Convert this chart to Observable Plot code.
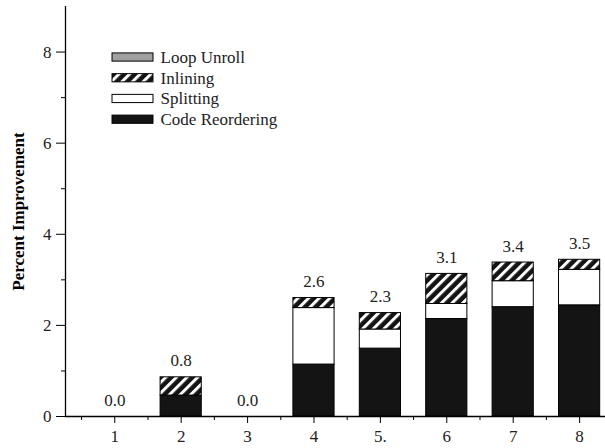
<!DOCTYPE html>
<html>
<head>
<meta charset="utf-8">
<script src="https://cdn.jsdelivr.net/npm/d3@7"></script>
<script src="https://cdn.jsdelivr.net/npm/@observablehq/plot@0.6"></script>
<style>
  html, body { margin: 0; padding: 0; background: #fff; }
  #chart svg { font-family: "Liberation Serif", "Times New Roman", serif !important; font-size: 17px; }
  #chart svg text { font-family: "Liberation Serif", "Times New Roman", serif !important; }
</style>
</head>
<body>
<div id="chart"></div>
<script>
// ---- data ----
const categories = [1, 2, 3, 4, 5, 6, 7, 8];
const xTickLabels = ["1", "2", "3", "4", "5.", "6", "7", "8"];
const codeReordering = [0, 0.46, 0, 1.14, 1.49, 2.14, 2.40, 2.44];
const splitting      = [0, 0,    0, 1.24, 0.42, 0.33, 0.57, 0.78];
const inlining       = [0, 0.40, 0, 0.22, 0.36, 0.66, 0.41, 0.22];
const loopUnroll     = [0, 0,    0, 0,    0,    0,    0,    0];
const totalLabels = ["0.0", "0.8", "0.0", "2.6", "2.3", "3.1", "3.4", "3.5"];
const legendNames = ["Loop Unroll", "Inlining", "Splitting", "Code Reordering"];
const yMajorTicks = [0, 2, 4, 6, 8];
const yMinorTicks = [1, 3, 5, 7];

// ---- styling ----
const serif = "Liberation Serif";
const fs = 17;
const fills = {
  "Code Reordering": "#141414",
  "Splitting": "#ffffff",
  "Inlining": "url(#hatch)",
  "Loop Unroll": "#a0a0a0"
};
const seriesValues = {
  "Code Reordering": codeReordering,
  "Splitting": splitting,
  "Inlining": inlining,
  "Loop Unroll": loopUnroll
};
const stackOrder = ["Code Reordering", "Splitting", "Inlining", "Loop Unroll"];
const halfWidth = 0.31;
const xDomain = [0.258, 8.39];
const yDomain = [0, 9];

const rows = categories.flatMap((c, i) => {
  let base = 0;
  return stackOrder.map(s => {
    const v = seriesValues[s][i];
    const r = {cat: c, series: s, y1: base, y2: base + v};
    base += v;
    return r;
  });
}).filter(r => r.y2 > r.y1);

const totals = categories.map((c, i) => stackOrder.reduce((a, s) => a + seriesValues[s][i], 0));

// legend placement (data space)
const legX1 = 0.966, legX2 = 1.583, legTextX = 1.689, legTop = 7.88, legStep = 0.455, legHalf = 0.09;
const legendRows = legendNames.map((n, i) => ({name: n, yc: legTop - i * legStep}));

const barMarks = stackOrder.map(s =>
  Plot.rect(rows.filter(r => r.series === s), {
    x1: r => r.cat - halfWidth,
    x2: r => r.cat + halfWidth,
    y1: "y1",
    y2: "y2",
    fill: fills[s],
    stroke: "black",
    strokeWidth: 1
  })
);

const plot = Plot.plot({
  width: 605,
  height: 448,
  marginLeft: 65,
  marginRight: 0,
  marginTop: 6,
  marginBottom: 32,
  style: {fontFamily: serif, fontSize: "17px", color: "black", background: "white"},
  x: {type: "linear", domain: xDomain, axis: null},
  y: {domain: yDomain, axis: null},
  marks: [
    ...barMarks,
    Plot.text(categories, {
      x: d => d,
      y: (d, i) => totals[i],
      text: (d, i) => totalLabels[i],
      dy: -11,
      lineAnchor: "bottom",
      fill: "#222",
      fontFamily: serif,
      fontSize: fs
    }),
    Plot.ruleX([xDomain[0]], {stroke: "black", strokeWidth: 1.3}),
    Plot.ruleY([0], {stroke: "black", strokeWidth: 1.3}),
    Plot.axisY({ticks: yMajorTicks, tickSize: 9, tickPadding: 5, tickFormat: d => String(d), fill: "#222", fontFamily: serif, fontSize: fs}),
    Plot.axisY({ticks: yMinorTicks, tickSize: 4, tickFormat: () => ""}),
    Plot.axisX({ticks: categories, tickSize: 7, tickPadding: 6, tickFormat: d => xTickLabels[categories.indexOf(d)], fill: "#222", fontFamily: serif, fontSize: fs}),
    Plot.axisX({ticks: categories.map(c => c - 0.5), tickSize: 4, tickFormat: () => ""}),
    Plot.text(["Percent Improvement"], {
      frameAnchor: "left",
      dx: -47,
      rotate: -90,
      fontWeight: "bold",
      fontFamily: serif,
      fontSize: fs,
      textAnchor: "middle"
    }),
    // legend
    Plot.rect(legendRows, {
      x1: legX1, x2: legX2,
      y1: d => d.yc - legHalf, y2: d => d.yc + legHalf,
      fill: d => fills[d.name],
      stroke: "black", strokeWidth: 1
    }),
    Plot.text(legendRows, {
      x: legTextX, y: "yc", text: "name",
      textAnchor: "start", lineAnchor: "middle", fill: "#222",
      fontFamily: serif, fontSize: fs
    })
  ]
});

// hatch pattern definition
const svg = d3.select(plot.tagName.toLowerCase() === "svg" ? plot : plot.querySelector("svg"));
const defs = svg.insert("defs", ":first-child");
const pat = defs.append("pattern")
  .attr("id", "hatch")
  .attr("patternUnits", "userSpaceOnUse")
  .attr("width", 7.5)
  .attr("height", 7.5)
  .attr("patternTransform", "rotate(45)");
pat.append("rect").attr("width", 7.5).attr("height", 7.5).attr("fill", "#141414");
pat.append("rect").attr("width", 3).attr("height", 7.5).attr("fill", "#ffffff");

document.getElementById("chart").appendChild(plot);
</script>
</body>
</html>
